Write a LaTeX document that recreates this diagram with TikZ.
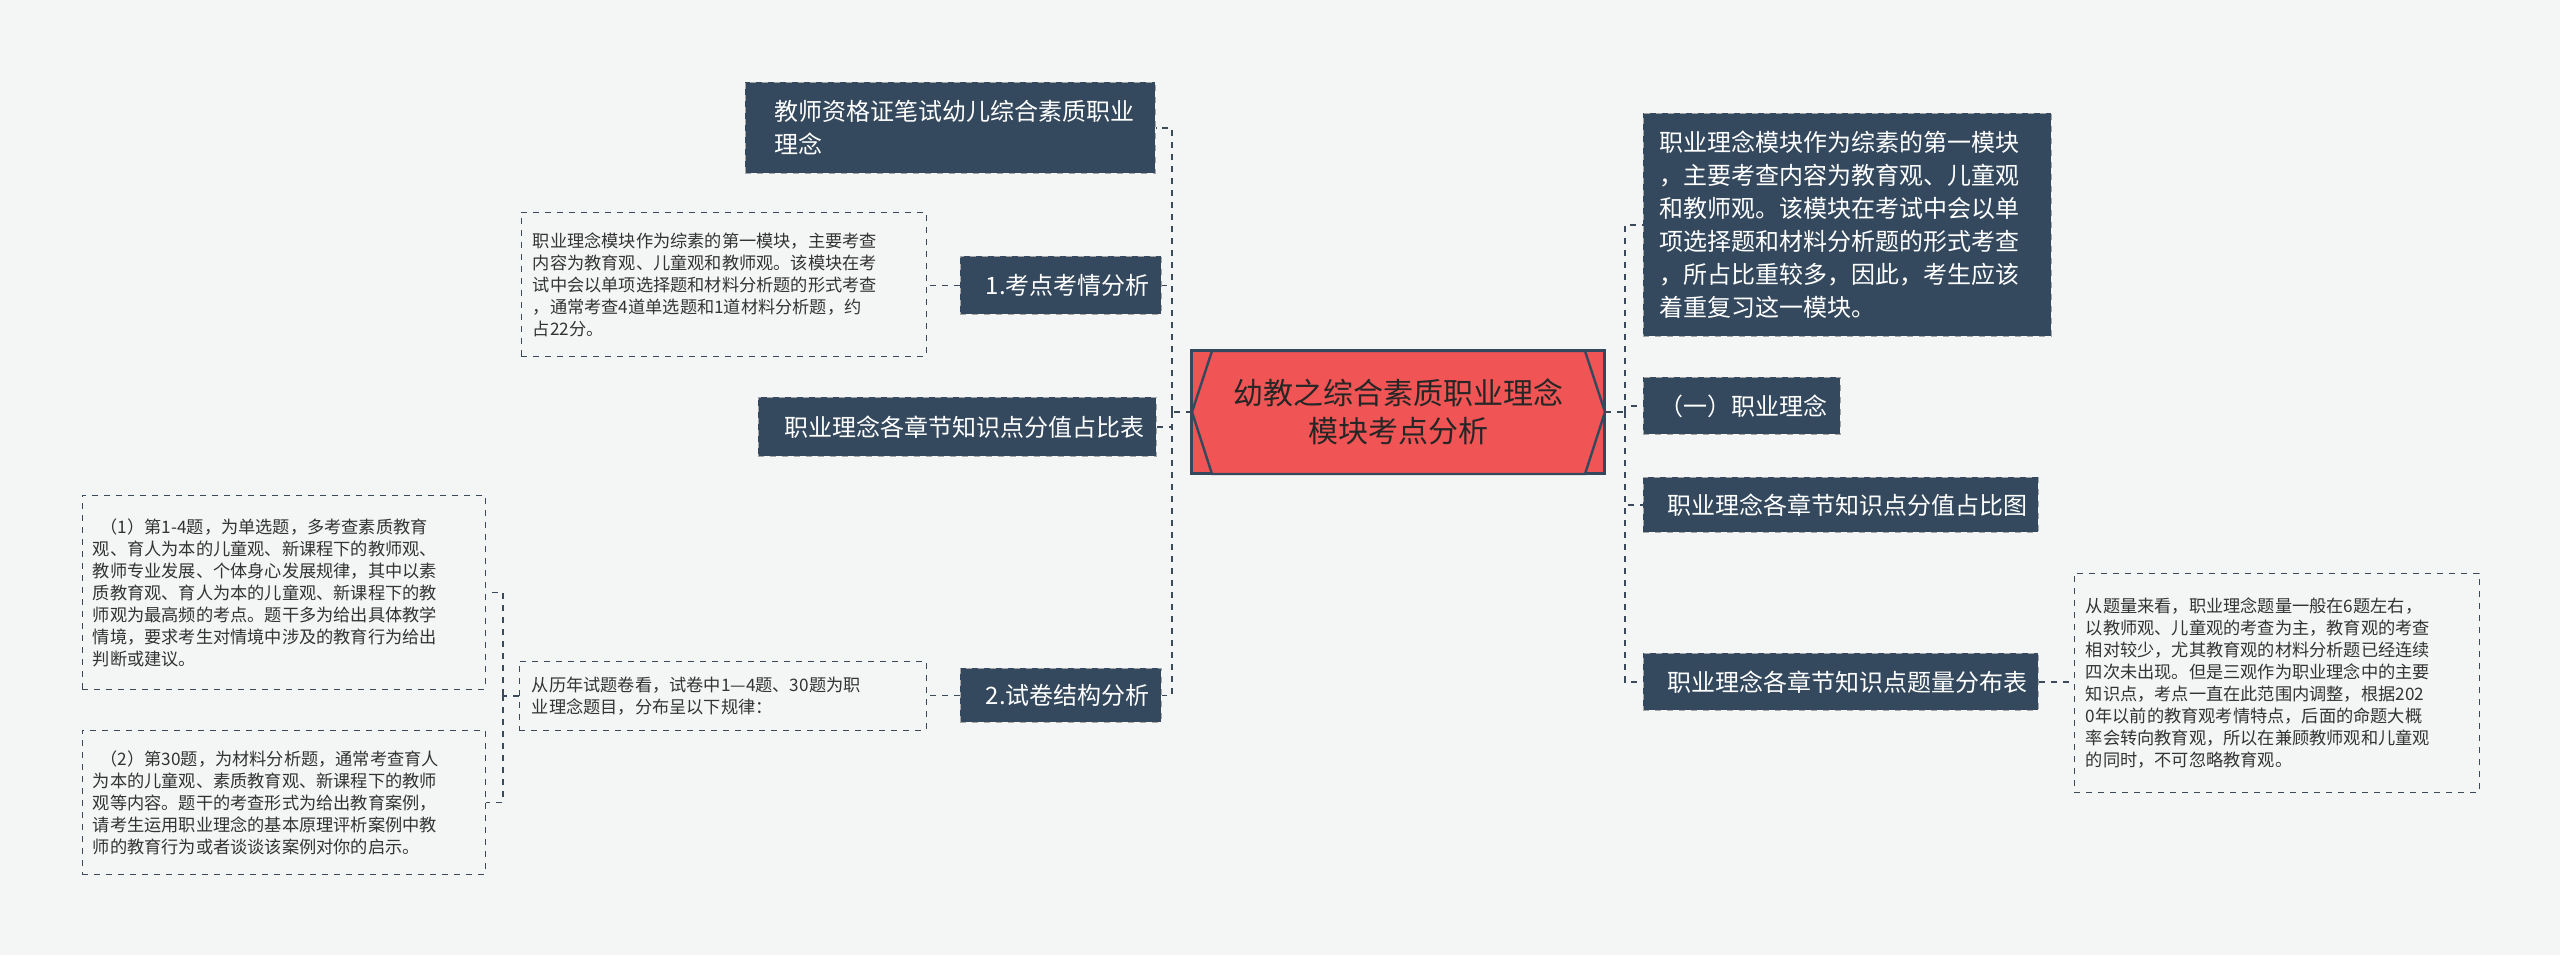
\documentclass[tikz,border=0pt]{standalone}
\usepackage{fontspec}
\setmainfont{Noto Sans CJK SC}
\usetikzlibrary{shapes.geometric}
\definecolor{dk}{HTML}{34495E}
\definecolor{bg}{HTML}{F4F5F5}
\definecolor{rd}{HTML}{F05454}
\definecolor{ln}{HTML}{3A4A5A}
\begin{document}
\begin{tikzpicture}[x=0.5pt,y=-0.5pt,
  dkbox/.style={fill=dk,draw=gray!70,dashed,text=white,font=\fontsize{12}{16.5}\selectfont,align=left,inner sep=0pt,anchor=north west},
  tbox/.style={draw=ln,dashed,text=black!80,font=\fontsize{8.6}{11}\selectfont,align=left,inner sep=0pt,anchor=north west},
  conn/.style={draw=ln,dashed,line width=0.8pt}]
\fill[bg] (0,0) rectangle (2560,955);
\useasboundingbox (0,0) rectangle (2560,955);
% center
\node[fill=rd,draw=dk,line width=1.2pt,minimum width=413*0.5pt,minimum height=123*0.5pt,inner sep=0pt] (c) at (1398,412) {};
\fill[rd,draw=dk,line width=1.2pt] (1192,412)--(1212,351)--(1585,351)--(1605,412)--(1585,474)--(1212,474)--cycle;
\node[font=\fontsize{15}{19}\selectfont,align=center,text=black!85] at (1398,412) {幼教之综合素质职业理念\\模块考点分析};
% left nodes
\node[dkbox,minimum width=205pt,minimum height=45.5pt,text width=190pt] (l1) at (745,82) {\hspace*{7pt}教师资格证笔试幼儿综合素质职业\\\hspace*{7pt}理念};
\node[dkbox,minimum width=100.5pt,minimum height=29pt] (l2) at (960,256) {\hspace*{7pt}1.考点考情分析};
\node[dkbox,minimum width=199pt,minimum height=29.5pt] (l3) at (758,397) {\hspace*{7pt}职业理念各章节知识点分值占比表};
\node[dkbox,minimum width=100.5pt,minimum height=27pt] (l4) at (960,668) {\hspace*{7pt}2.试卷结构分析};
\node[tbox,minimum width=202.5pt,minimum height=72pt] (t1) at (521,212) {\hspace*{4pt}\begin{minipage}{195pt}职业理念模块作为综素的第一模块，主要考查\\内容为教育观、儿童观和教师观。该模块在考\\试中会以单项选择题和材料分析题的形式考查\\，通常考查4道单选题和1道材料分析题，约\\占22分。\end{minipage}};
\node[tbox,minimum width=203.5pt,minimum height=34.5pt] (t2) at (519,661) {\hspace*{4pt}\begin{minipage}{195pt}从历年试题卷看，试卷中1—4题、30题为职\\业理念题目，分布呈以下规律：\end{minipage}};
\node[tbox,minimum width=201.5pt,minimum height=97pt] (t3) at (82,495) {\hspace*{4pt}\begin{minipage}{195pt}\ \ （1）第1-4题，为单选题，多考查素质教育\\观、育人为本的儿童观、新课程下的教师观、\\教师专业发展、个体身心发展规律，其中以素\\质教育观、育人为本的儿童观、新课程下的教\\师观为最高频的考点。题干多为给出具体教学\\情境，要求考生对情境中涉及的教育行为给出\\判断或建议。\end{minipage}};
\node[tbox,minimum width=201.5pt,minimum height=72pt] (t4) at (82,730) {\hspace*{4pt}\begin{minipage}{195pt}\ \ （2）第30题，为材料分析题，通常考查育人\\为本的儿童观、素质教育观、新课程下的教师\\观等内容。题干的考查形式为给出教育案例，\\请考生运用职业理念的基本原理评析案例中教\\师的教育行为或者谈谈该案例对你的启示。\end{minipage}};
% right nodes
\node[dkbox,minimum width=204pt,minimum height=111.5pt] (r1) at (1643,113) {\hspace*{7pt}\begin{minipage}{195pt}职业理念模块作为综素的第一模块\\，主要考查内容为教育观、儿童观\\和教师观。该模块在考试中会以单\\项选择题和材料分析题的形式考查\\，所占比重较多，因此，考生应该\\着重复习这一模块。\end{minipage}};
\node[dkbox,minimum width=98.5pt,minimum height=28.5pt] (r2) at (1643,377) {\hspace*{2pt}（一）职业理念};
\node[dkbox,minimum width=197.5pt,minimum height=27.5pt] (r3) at (1643,477) {\hspace*{7pt}职业理念各章节知识点分值占比图};
\node[dkbox,minimum width=197.5pt,minimum height=28.5pt] (r4) at (1643,653) {\hspace*{7pt}职业理念各章节知识点题量分布表};
\node[tbox,minimum width=202.5pt,minimum height=109.5pt] (t5) at (2074,573) {\hspace*{4pt}\begin{minipage}{195pt}从题量来看，职业理念题量一般在6题左右，\\以教师观、儿童观的考查为主，教育观的考查\\相对较少，尤其教育观的材料分析题已经连续\\四次未出现。但是三观作为职业理念中的主要\\知识点，考点一直在此范围内调整，根据202\\0年以前的教育观考情特点，后面的命题大概\\率会转向教育观，所以在兼顾教师观和儿童观\\的同时，不可忽略教育观。\end{minipage}};
% connectors
\coordinate (lt) at (1172,412);
\coordinate (rt) at (1625,412);
\draw[conn] (1192,412) -- (lt);
\foreach \n in {l1,l2,l3,l4} \draw[conn] (lt) |- (\n.east);
\draw[conn] (1605,412) -- (rt);
\foreach \n in {r1,r2,r3,r4} \draw[conn] (rt) |- (\n.west);
\draw[conn] (l2.west) -- (t1.east |- l2.west);
\draw[conn] (l4.west) -- (t2.east |- l4.west);
\draw[conn] (t2.west) -- (503,695 |- t2.west) coordinate (st);
\draw[conn] (503,695) |- (t3.east);
\draw[conn] (503,695) |- (t4.east);
\draw[conn] (r4.east) -- (t5.west |- r4.east);
\end{tikzpicture}
\end{document}
